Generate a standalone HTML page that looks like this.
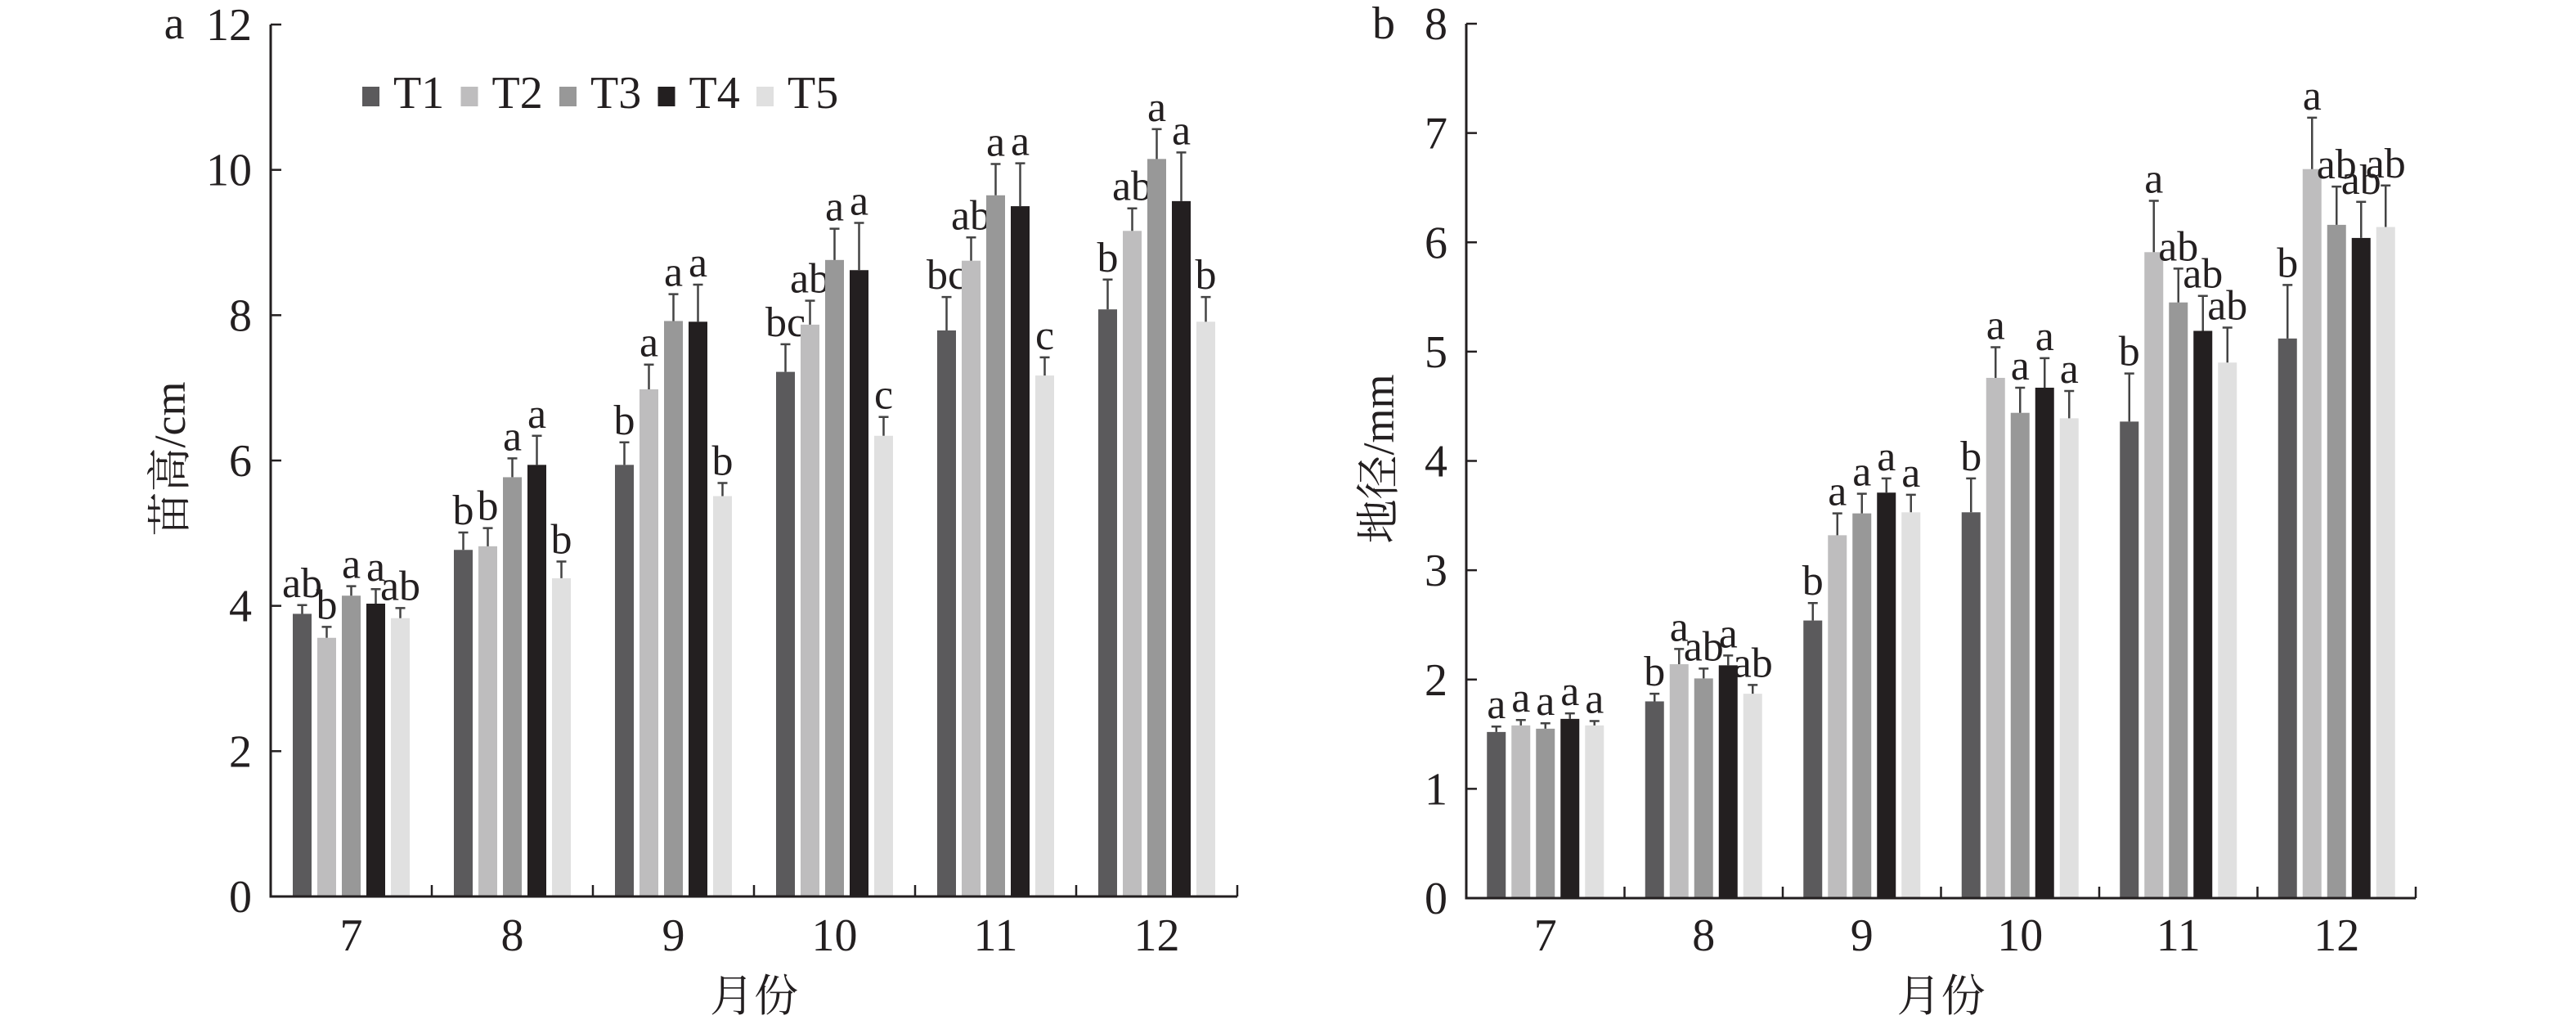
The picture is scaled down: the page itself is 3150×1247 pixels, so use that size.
<!DOCTYPE html>
<html><head><meta charset="utf-8">
<style>
html,body{margin:0;padding:0;background:#fff;}
svg{display:block;font-family:"Liberation Serif","Noto Serif CJK SC",serif;}
</style></head>
<body>
<svg id="fig" width="3150" height="1247" viewBox="0 0 3150 1247" xmlns="http://www.w3.org/2000/svg">
<g id="legend"></g>
</svg>
<script>
const categories = ["7","8","9","10","11","12"];
const seriesNames = ["T1","T2","T3","T4","T5"];
const colors = ["#5b5a5c","#bebdbe","#989898","#231f20","#e0e0e0"];

// Panel a: plant height (cm)
const heightT1 = [3.89,4.77,5.94,7.22,7.79,8.08];
const heightT2 = [3.56,4.82,6.98,7.87,8.75,9.16];
const heightT3 = [4.14,5.77,7.92,8.76,9.65,10.15];
const heightT4 = [4.03,5.94,7.91,8.62,9.50,9.57];
const heightT5 = [3.83,4.38,5.51,6.34,7.17,7.91];
const heightErrT1 = [0.12,0.24,0.31,0.38,0.46,0.41];
const heightErrT2 = [0.15,0.25,0.34,0.33,0.32,0.31];
const heightErrT3 = [0.13,0.26,0.37,0.43,0.43,0.41];
const heightErrT4 = [0.20,0.40,0.51,0.65,0.59,0.67];
const heightErrT5 = [0.14,0.23,0.18,0.26,0.25,0.34];
const heightLetters = [["ab","b","a","a","ab"],["b","b","a","a","b"],["b","a","a","a","b"],["bc","ab","a","a","c"],["bc","ab","a","a","c"],["b","ab","a","a","b"]];
const heightTicks = [0,2,4,6,8,10,12];

// Panel b: ground diameter (mm)
const diamT1 = [1.52,1.80,2.54,3.53,4.36,5.12];
const diamT2 = [1.58,2.14,3.32,4.76,5.91,6.67];
const diamT3 = [1.55,2.01,3.52,4.44,5.45,6.16];
const diamT4 = [1.64,2.13,3.71,4.67,5.19,6.04];
const diamT5 = [1.58,1.87,3.53,4.39,4.90,6.14];
const diamErrT1 = [0.05,0.07,0.16,0.31,0.44,0.49];
const diamErrT2 = [0.05,0.14,0.20,0.28,0.47,0.47];
const diamErrT3 = [0.05,0.09,0.18,0.23,0.31,0.35];
const diamErrT4 = [0.05,0.09,0.13,0.27,0.32,0.33];
const diamErrT5 = [0.04,0.08,0.16,0.25,0.32,0.38];
const diamLetters = [["a","a","a","a","a"],["b","a","ab","a","ab"],["b","a","a","a","a"],["b","a","a","a","a"],["b","a","ab","ab","ab"],["b","a","ab","ab","ab"]];
const diamTicks = [0,1,2,3,4,5,6,7,8];

const NS = "http://www.w3.org/2000/svg";
const svg = document.getElementById("fig");
function mk(tag, attrs, parent){
  const e = document.createElementNS(NS, tag);
  for (const k in attrs) e.setAttribute(k, attrs[k]);
  (parent||svg).appendChild(e);
  return e;
}

function drawPanel(p){
  const g = mk("g", {});
  
  
  const yScale = v => p.y0 - v / p.yMax * (p.y0 - p.yTop);
  const catW = (p.x1 - p.x0) / categories.length;
  const xCat = i => p.x0 + i * catW;
  const barW = 23, pitch = 30;
  const groupOff = (catW - (pitch*4 + barW)) / 2;

  const vals = p.values, errs = p.errors;
  for (let c = 0; c < categories.length; c++){
    for (let s = 0; s < seriesNames.length; s++){
      const v = vals[s][c], e = errs[s][c];
      const bx = xCat(c) + groupOff + s * pitch;
      const r = mk("rect", {x:bx, y:yScale(v), width:barW, height:yScale(0)-yScale(v), fill:colors[s]}, g);
      
      
      const cx = bx + barW/2;
      const eb = mk("path", {d:`M${cx},${yScale(v)}V${yScale(v+e)}M${cx-6},${yScale(v+e)}H${cx+6}`, stroke:"#444", "stroke-width":2.5, fill:"none"}, g);
      
      
      const t = mk("text", {x:cx, y:yScale(v+e)-10, "font-size":52, "text-anchor":"middle", fill:"#231f20"}, g);
      t.textContent = p.letters[c][s];
      
      
    }
  }
  const ax = mk("path", {d:`M${p.x0},${p.yTop}V${p.y0}H${p.x1}`, stroke:"#231f20", "stroke-width":3, fill:"none"}, g);
  
  
  p.ticks.forEach(tv => {
    const y = yScale(tv);
    const tk = mk("line", {x1:p.x0, x2:p.x0+13, y1:y, y2:y, stroke:"#231f20", "stroke-width":2.5}, g);
    
    
    const tl = mk("text", {x:p.x0-23, y:y+19, "font-size":56, "text-anchor":"end", fill:"#231f20"}, g);
    tl.textContent = tv;
    
    
  });
  for (let i = 1; i <= categories.length; i++){
    const tk = mk("line", {x1:xCat(i), x2:xCat(i), y1:p.y0, y2:p.y0-14, stroke:"#231f20", "stroke-width":2.5}, g);
    
    
  }
  categories.forEach((c,i) => {
    const tl = mk("text", {x:xCat(i)+catW/2, y:1162, "font-size":56, "text-anchor":"middle", fill:"#231f20"}, g);
    tl.textContent = c;
    
    
  });
  const xt = mk("text", {x:(p.x0+p.x1)/2, y:1236, "font-size":54, "text-anchor":"middle", fill:"#231f20"}, g);
  xt.textContent = "月份";
  
  
  const yt = mk("text", {x:0, y:0, "font-size":54, "text-anchor":"middle", fill:"#231f20", transform:`translate(${p.ytx},561) rotate(-90)`}, g);
  yt.textContent = p.ytitle;
  
  
  const pl = mk("text", {x:p.plx, y:47, "font-size":56, "text-anchor":"middle", fill:"#231f20"}, g);
  pl.textContent = p.label;
  
  
}

drawPanel({name:"panel-a-plant-height", x0:331, x1:1513, y0:1096, yTop:30, yMax:12, ticks:heightTicks,
  values:[heightT1,heightT2,heightT3,heightT4,heightT5], errors:[heightErrT1,heightErrT2,heightErrT3,heightErrT4,heightErrT5],
  letters:heightLetters, ytitle:"苗高/cm", ytx:226, plx:213, label:"a"});
drawPanel({name:"panel-b-ground-diameter", x0:1793, x1:2954, y0:1098, yTop:29, yMax:8, ticks:diamTicks,
  values:[diamT1,diamT2,diamT3,diamT4,diamT5], errors:[diamErrT1,diamErrT2,diamErrT3,diamErrT4,diamErrT5],
  letters:diamLetters, ytitle:"地径/mm", ytx:1704, plx:1692, label:"b"});

const lg = document.getElementById("legend");
seriesNames.forEach((n,i) => {
  const x = 443 + i * 120.5;
  const sq = mk("rect", {x:x, y:106, width:21, height:24, fill:colors[i]}, lg);
  
  
  const t = mk("text", {x:x+38, y:132, "font-size":56, fill:"#231f20"}, lg);
  t.textContent = n;
  
  
});
</script>
</body></html>
